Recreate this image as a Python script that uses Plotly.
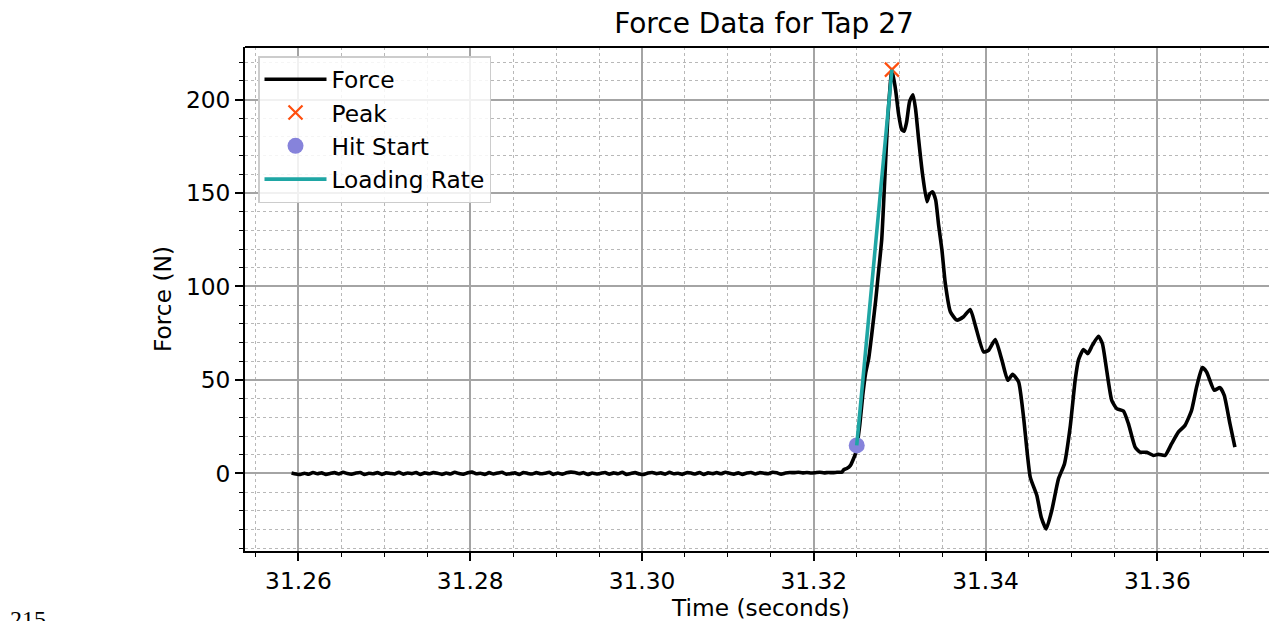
import plotly.graph_objects as go

# ---- data ----
baseline_t0 = 31.2592
baseline_step = 0.0005
baseline_force = [
    0.2, -0.3, -0.6, 0.1, -0.4, 0.5, -0.2, 0.3, -0.5, 0.0,
    0.4, -0.3, 0.6, -0.1, -0.4, 0.2, 0.5, -0.6, 0.1, -0.2,
    0.4, -0.5, 0.3, 0.0, -0.3, 0.6, -0.4, 0.2, -0.1, 0.5,
    -0.6, 0.3, -0.2, 0.4, 0.1, -0.5, 0.2, -0.3, 0.6, -0.1,
    -0.4, 0.3, 0.7, -0.2, 0.1, -0.5, 0.4, -0.3, 0.2, 0.6,
    -0.4, -0.1, 0.3, -0.6, 0.5, 0.0, -0.3, 0.4, -0.2, 0.1,
    0.6, -0.5, 0.2, -0.4, 0.3, 0.7, 0.5, -0.1, 0.4, -0.6,
    0.2, -0.3, 0.1, 0.5, -0.4, 0.3, -0.2, 0.6, -0.5, 0.0,
    0.4, -0.3, -0.6, 0.2, 0.5, -0.1, 0.3, -0.4, 0.6, -0.2,
    0.1, -0.5, 0.4, 0.2, -0.3, 0.5, -0.6, 0.3, -0.1, 0.4,
    -0.2, 0.6, 0.1, -0.4, 0.3, -0.5, 0.2, 0.5, -0.3, 0.4,
    0.1, -0.2, 0.6, 0.3, -0.4, 0.2, 0.5, 0.4, 0.6, 0.3,
    0.5, 0.2, 0.4, 0.6, 0.3, 0.5, 0.4, 0.6,
]
active_time = [
    31.32329, 31.32349, 31.32384, 31.32427, 31.32485, 31.32503, 31.32535,
    31.32570, 31.32605, 31.32640, 31.32674, 31.32721, 31.32756, 31.32791,
    31.32826, 31.32860, 31.32890, 31.32910, 31.32953, 31.32988, 31.33023,
    31.33052, 31.33081, 31.33116, 31.33155, 31.33186, 31.33221, 31.33267,
    31.33317, 31.33349, 31.33384, 31.33419, 31.33453, 31.33492, 31.33531,
    31.33590, 31.33666, 31.33744, 31.33822, 31.33880, 31.33977, 31.34035,
    31.34113, 31.34190, 31.34259, 31.34314, 31.34384, 31.34442, 31.34520,
    31.34597, 31.34648, 31.34706, 31.34771, 31.34849, 31.34919, 31.34985,
    31.35043, 31.35081, 31.35140, 31.35190, 31.35244, 31.35314, 31.35360,
    31.35410, 31.35469, 31.35527, 31.35605, 31.35663, 31.35741, 31.35799,
    31.35876, 31.35953, 31.36012, 31.36090, 31.36166, 31.36244, 31.36322,
    31.36399, 31.36457, 31.36523, 31.36573, 31.36663, 31.36729, 31.36779,
    31.36845, 31.36903,
]
active_force = [
    0.7, 2.0, 2.6, 4.3, 10.5, 15.0, 25.7,
    41.8, 54.0, 61.6, 74.0, 92.7, 108.8, 125.0,
    157.0, 189.0, 208.0, 216.0, 205.0, 192.0, 184.0,
    183.0, 188.0, 199.0, 202.6, 194.6, 178.5, 159.7,
    145.4, 149.5, 150.6, 146.3, 133.0, 119.5, 101.7,
    86.5, 82.0, 83.8, 87.7, 79.3, 65.0, 65.9,
    71.6, 60.6, 49.8, 53.0, 49.0, 30.2, -2.0,
    -11.8, -23.4, -29.7, -19.8, -2.9, 5.2, 24.8,
    49.8, 60.6, 66.3, 64.1, 68.6, 73.4, 69.5,
    55.2, 39.1, 34.7, 33.4, 26.6, 14.1, 11.4,
    11.3, 9.6, 10.2, 9.6, 15.9, 22.1, 25.7,
    33.8, 46.2, 56.6, 54.3, 44.5, 45.9, 41.8,
    26.6, 14.1,
]
peak_time = [31.3291]
peak_force = [216.0]
hit_start_time = [31.3250]
hit_start_force = [15.0]

title_text = "Force Data for Tap 27"
x_label = "Time (seconds)"
y_label = "Force (N)"
corner_text = "215"
x_range = [31.25378, 31.37393]
y_range = [-41.5, 228.1]

baseline_time = [baseline_t0 + i * baseline_step for i in range(len(baseline_force))]
force_time = baseline_time + active_time
force_values = baseline_force + active_force

FONT = "DejaVu Sans"
FS = 23.3

fig = go.Figure()
fig.add_trace(go.Scatter(
    x=force_time, y=force_values, mode="lines", name="Force", legendgroup="a",
    line=dict(color="black", width=3.6, shape="spline", smoothing=0.5),
))
fig.add_trace(go.Scatter(
    x=peak_time, y=peak_force, mode="markers", name="Peak", legendgroup="b",
    marker=dict(symbol="x-thin", size=14, line=dict(color="#FF4E0D", width=2.2), color="#FF4E0D"),
))
fig.add_trace(go.Scatter(
    x=hit_start_time, y=hit_start_force, mode="markers", name="Hit Start", legendgroup="c",
    marker=dict(symbol="circle", size=16, color="#8683DB"),
))
fig.add_trace(go.Scatter(
    x=[hit_start_time[0], peak_time[0]], y=[hit_start_force[0], peak_force[0]],
    mode="lines", name="Loading Rate", legendgroup="d",
    line=dict(color="#1FA6A4", width=3.6),
))

grid_major = "#a4a4a4"
grid_minor = "#b8b8b8"

# page has an 8px body margin: figure pixel = page pixel - 8
W, H = 1269, 613
fig.update_layout(
    width=W, height=H,
    margin=dict(l=237, r=0, t=39, b=70),
    paper_bgcolor="white", plot_bgcolor="white",
    font=dict(family=FONT, size=FS, color="black"),
    title=dict(text=title_text, x=756 / W, xref="container", xanchor="center",
               y=1 - 15 / H, yref="container", yanchor="middle",
               font=dict(family=FONT, size=28, color="black")),
    showlegend=True,
    legend=dict(x=0.0126, y=0.982, xanchor="left", yanchor="top",
                bgcolor="rgba(255,255,255,0.85)", bordercolor="#cccccc", borderwidth=1.5,
                itemwidth=62, tracegroupgap=0,
                font=dict(family=FONT, size=FS, color="black")),
    xaxis=dict(
        range=x_range, tick0=31.26, dtick=0.02, tickformat=".2f", automargin=False,
        showline=True, linecolor="black", linewidth=1.8, mirror=False,
        ticks="outside", ticklen=8, tickwidth=1.8, tickcolor="black",
        showgrid=True, gridcolor=grid_major, gridwidth=1.6, zeroline=False,
        tickfont=dict(family=FONT, size=FS, color="black"),
        title=dict(text=x_label, font=dict(family=FONT, size=FS, color="black"), standoff=11),
        minor=dict(dtick=0.005, tick0=31.26, ticks="outside", ticklen=4.4, tickwidth=1.4,
                   tickcolor="black", showgrid=True, gridcolor=grid_minor, gridwidth=1,
                   griddash="dot"),
    ),
    yaxis=dict(
        range=y_range, tick0=0, dtick=50, automargin=False,
        showline=True, linecolor="black", linewidth=1.8, mirror=False,
        ticks="outside", ticklen=8, tickwidth=1.8, tickcolor="black",
        showgrid=True, gridcolor=grid_major, gridwidth=1.6, zeroline=False,
        tickfont=dict(family=FONT, size=FS, color="black"),
        title=dict(text=y_label, font=dict(family=FONT, size=FS, color="black"), standoff=8),
        minor=dict(dtick=10, tick0=0, ticks="outside", ticklen=4.4, tickwidth=1.4,
                   tickcolor="black", showgrid=True, gridcolor=grid_minor, gridwidth=1,
                   griddash="dot"),
    ),
    shapes=[dict(type="line", xref="paper", yref="paper", x0=0, x1=1, y0=1, y1=1,
                 line=dict(color="black", width=1.8), layer="above")],
    annotations=[dict(text=corner_text, xref="paper", yref="paper", x=(0 - 237) / 1032,
                      y=-(596 - 543) / 504, xanchor="left", yanchor="top",
                      showarrow=False, font=dict(family="Liberation Serif", size=24, color="black"))],
)

fig.write_html("out.html")
